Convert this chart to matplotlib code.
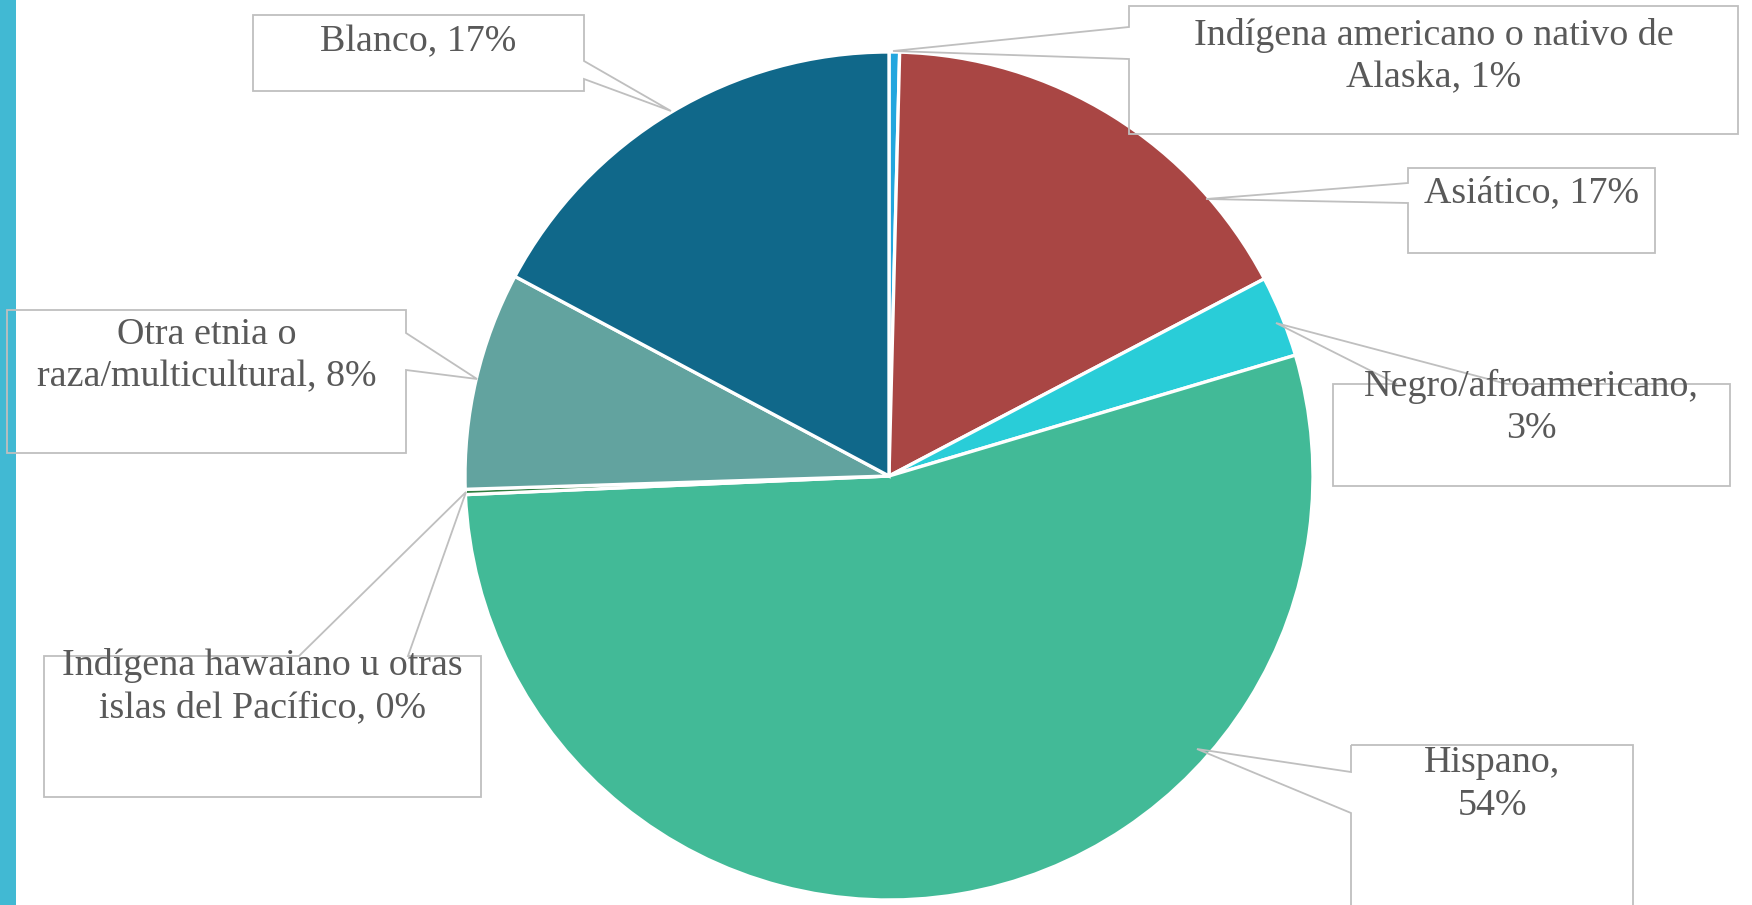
import numpy as np
import matplotlib
matplotlib.use('Agg')
import matplotlib.pyplot as plt
from matplotlib.patches import Polygon, Rectangle

plt.rcParams['font.family'] = ['Liberation Serif', 'DejaVu Serif']

# datos (porcentaje de cada grupo, en el orden del grafico, desde las 12 en sentido horario)
names = ['Indígena americano o nativo de Alaska', 'Asiático', 'Negro/afroamericano',
         'Hispano', 'Indígena hawaiano u otras islas del Pacífico',
         'Otra etnia o raza/multicultural', 'Blanco']
shares = [0.4, 16.9, 3.1, 53.9, 0.2, 8.3, 17.2]
pct_text = ['1%', '17%', '3%', '54%', '0%', '8%', '17%']
colors = ['#22A6DE', '#A94644', '#29CDD8', '#42BA97', '#2E7D3E', '#62A39F', '#10688A']

W, H = 1752, 905

# posicion de las etiquetas (pixeles, y hacia abajo)
# box = x0, y0, x1, y1 ; edge = lado donde sale la flecha ; base = puntos de union ; tip = punta
layout = [
    dict(box=(1129, 6, 1738, 134), edge='left', base=(27, 59), tip=(893, 51), y=45, brk=5),
    dict(box=(1408, 168, 1655, 253), edge='left', base=(183, 203), tip=(1206, 199), y=202, brk=None),
    dict(box=(1333, 384, 1730, 486), edge='top', base=(1397, 1507), tip=(1276, 323), y=396, brk=1),
    dict(box=(1351, 745, 1633, 930), edge='left', base=(772, 813), tip=(1197, 749), y=772, brk=1),
    dict(box=(44, 656, 481, 797), edge='top', base=(299, 408), tip=(466, 492), y=675, brk=4),
    dict(box=(7, 310, 406, 453), edge='right', base=(333, 370), tip=(477, 379), y=344, brk=3),
    dict(box=(253, 15, 584, 91), edge='right', base=(61, 79), tip=(671, 111), y=51, brk=None),
]
pitch = 42.5


def callout(lay):
    x0, y0, x1, y1 = lay['box']
    b0, b1 = lay['base']
    tx, ty = lay['tip']
    if lay['edge'] == 'top':
        pts = [(x0, y0), (b0, y0), (tx, ty), (b1, y0), (x1, y0), (x1, y1), (x0, y1)]
    elif lay['edge'] == 'right':
        pts = [(x0, y0), (x1, y0), (x1, b0), (tx, ty), (x1, b1), (x1, y1), (x0, y1)]
    else:
        pts = [(x0, y0), (x1, y0), (x1, y1), (x0, y1), (x0, b1), (tx, ty), (x0, b0)]
    return [(px, H - py) for px, py in pts]


fig = plt.figure(figsize=(W / 100.0, H / 100.0), dpi=100)
ax = fig.add_axes([0, 0, 1, 1])

ax.pie(shares, colors=colors, startangle=90, counterclock=False,
       center=(889, H - 476), radius=424,
       wedgeprops=dict(edgecolor='white', linewidth=2.4))

ax.add_patch(Rectangle((0, 0), 15.5, H, facecolor='#41B9D3', edgecolor='none', zorder=1))

for i, lay in enumerate(layout):
    ax.add_patch(Polygon(callout(lay), closed=True, facecolor='none',
                         edgecolor='#BFBFBF', linewidth=1.3, zorder=3))
    words = (names[i] + ', ' + pct_text[i]).split(' ')
    if lay['brk'] is None:
        lines = [' '.join(words)]
    else:
        lines = [' '.join(words[:lay['brk']]), ' '.join(words[lay['brk']:])]
    cx = 0.5 * (lay['box'][0] + lay['box'][2])
    for k, line in enumerate(lines):
        ax.text(cx, H - (lay['y'] + k * pitch), line, ha='center', va='baseline',
                fontsize=27.4, color='#595959', zorder=4)

ax.set_xlim(0, W)
ax.set_ylim(0, H)
ax.set_aspect('equal')
ax.axis('off')

fig.savefig('out.png', dpi=100, facecolor='white')
